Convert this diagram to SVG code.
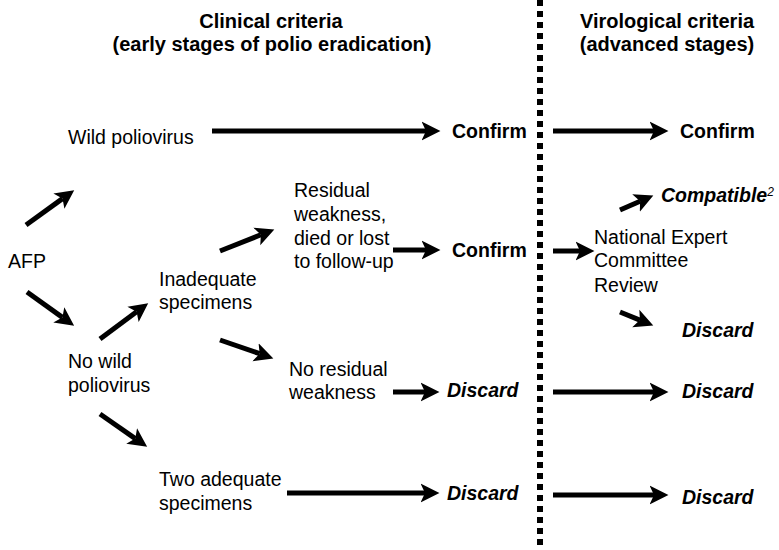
<svg xmlns="http://www.w3.org/2000/svg" width="779" height="550" viewBox="0 0 779 550">
<style>
text{font-family:"Liberation Sans",Arial,sans-serif;fill:#000}
.t{font-size:19.5px}
.h{font-size:20px;font-weight:bold;text-anchor:middle}
.b{font-size:19.5px;font-weight:bold}
.bi{font-size:19.5px;font-weight:bold;font-style:italic}
.a{fill:none;stroke:#000;stroke-width:5;marker-end:url(#ah)}
.div{stroke:#000;stroke-width:6;stroke-dasharray:6 5}
</style>
<defs>
<marker id="ah" markerUnits="userSpaceOnUse" markerWidth="20" markerHeight="20" viewBox="0 -9 18 18" refX="4" refY="0" orient="auto">
<path d="M0,-8.5 L17,0 L0,8.5 L4,0 z" fill="#000"/>
</marker>
</defs>
<rect width="779" height="550" fill="#fff"/>
<line class="div" x1="540" y1="0" x2="540" y2="550"/>
<g id="title-clinical"><text class="h" x="271" y="28">Clinical criteria</text><text class="h" x="272" y="51">(early stages of polio eradication)</text></g>
<g id="title-virological"><text class="h" x="667" y="28">Virological criteria</text><text class="h" x="667" y="51">(advanced stages)</text></g>
<g id="afp"><text class="t" x="8" y="268">AFP</text></g>
<g id="wild"><text class="t" x="68" y="144">Wild poliovirus</text></g>
<g id="confirm-wild"><text class="b" x="452" y="138">Confirm</text></g>
<g id="confirm-wild-v"><text class="b" x="680" y="138">Confirm</text></g>
<g id="inadequate"><text class="t" x="159" y="286">Inadequate</text><text class="t" x="159" y="309">specimens</text></g>
<g id="nowild"><text class="t" x="68" y="368">No wild</text><text class="t" x="68" y="392">poliovirus</text></g>
<g id="residual"><text class="t" x="294" y="197">Residual</text><text class="t" x="294" y="221">weakness,</text><text class="t" x="294" y="245">died or lost</text><text class="t" x="294" y="268">to follow-up</text></g>
<g id="confirm-residual"><text class="b" x="452" y="257">Confirm</text></g>
<g id="nec"><text class="t" x="594" y="244">National Expert</text><text class="t" x="594" y="267">Committee</text><text class="t" x="594" y="292">Review</text></g>
<g id="compatible"><text class="bi" x="661" y="202">Compatible<tspan font-size="12" font-weight="normal" dy="-6">2</tspan></text></g>
<g id="discard-nec"><text class="bi" x="682" y="337">Discard</text></g>
<g id="noresidual"><text class="t" x="289" y="376">No residual</text><text class="t" x="289" y="399">weakness</text></g>
<g id="discard-noresidual"><text class="bi" x="447" y="397">Discard</text></g>
<g id="discard-noresidual-v"><text class="bi" x="682" y="398">Discard</text></g>
<g id="twoadequate"><text class="t" x="159" y="486">Two adequate</text><text class="t" x="159" y="510">specimens</text></g>
<g id="discard-two"><text class="bi" x="447" y="500">Discard</text></g>
<g id="discard-two-v"><text class="bi" x="682" y="504">Discard</text></g>
<g id="connectors">
<path class="a" d="M212,131 H426"/>
<path class="a" d="M553,131 H654"/>
<path class="a" d="M26,225 L62.5,198.6"/>
<path class="a" d="M27,292 L62.4,317.4"/>
<path class="a" d="M100,339 L136.6,311.8"/>
<path class="a" d="M220,251 L260.9,234.8"/>
<path class="a" d="M220,340 L259.7,353.7"/>
<path class="a" d="M393,250 H426"/>
<path class="a" d="M553,251 H580"/>
<path class="a" d="M620,210 L640.1,201.2"/>
<path class="a" d="M620,312 L639.9,320.1"/>
<path class="a" d="M393,392 H425"/>
<path class="a" d="M553,392 H654"/>
<path class="a" d="M100,414 L135.3,438.6"/>
<path class="a" d="M287,493 H425"/>
<path class="a" d="M553,495 H654"/>
</g>
</svg>
